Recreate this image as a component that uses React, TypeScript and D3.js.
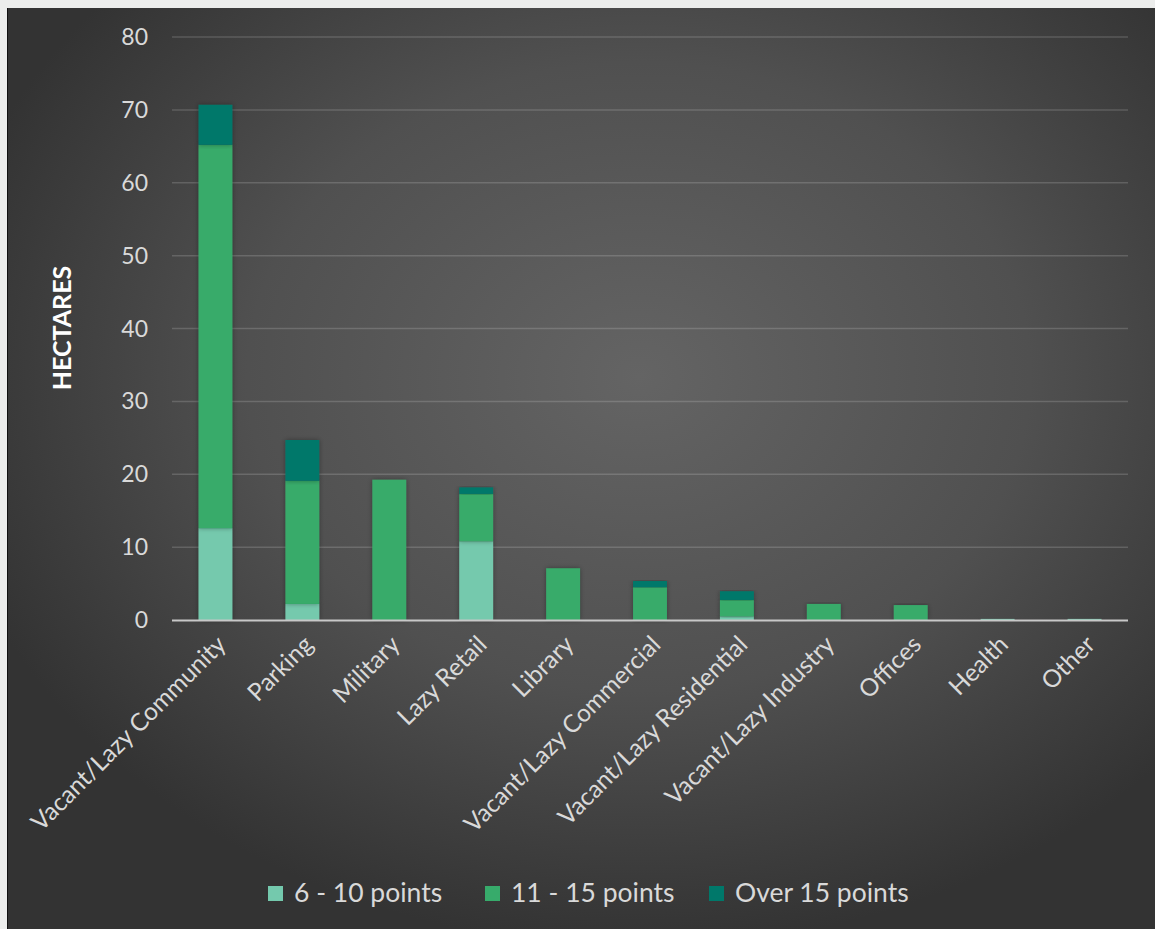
import React from "react";
import * as d3 from "d3";

const categories = [
  "Vacant/Lazy Community",
  "Parking",
  "Military",
  "Lazy Retail",
  "Library",
  "Vacant/Lazy Commercial",
  "Vacant/Lazy Residential",
  "Vacant/Lazy Industry",
  "Offices",
  "Health",
  "Other",
];
const series6to10 = [12.6, 2.2, 0, 10.8, 0, 0, 0.5, 0, 0, 0.15, 0.15];
const series11to15 = [52.6, 16.9, 19.25, 6.5, 7.1, 4.5, 2.25, 2.2, 2.05, 0, 0];
const seriesOver15 = [5.5, 5.6, 0, 0.9, 0, 0.85, 1.2, 0, 0, 0, 0];
const seriesNames = ["6 - 10 points", "11 - 15 points", "Over 15 points"];
const seriesColors = ["#74c9ad", "#37ab6b", "#00786a"];
const yTicks = [0, 10, 20, 30, 40, 50, 60, 70, 80];

const W = 1155;
const H = 929;
const FONT = "Lato, 'Open Sans', sans-serif";

export default function App() {
  const x = d3
    .scaleBand<string>()
    .domain(categories)
    .range([172, 1128])
    .paddingInner(0.61)
    .paddingOuter(0.305);
  const y = d3.scaleLinear().domain([0, 80]).range([620, 37]);

  const rows = categories.map((c, i) => ({
    cat: c,
    a: series6to10[i],
    b: series11to15[i],
    c: seriesOver15[i],
  }));
  const stack = d3.stack<any>().keys(["a", "b", "c"])(rows);

  const legendX = [268, 485, 709];

  return (
    <div style={{ position: "fixed", left: 0, top: 0, width: W, height: H, overflow: "hidden" }}>
      <svg width={W} height={H} style={{ display: "block" }}>
        <defs>
          <radialGradient id="bg" cx="0.55" cy="0.4" r="0.62">
            <stop offset="0" stopColor="#646464" />
            <stop offset="0.55" stopColor="#505050" />
            <stop offset="1" stopColor="#333333" />
          </radialGradient>
          <filter id="sh" x="-30%" y="-10%" width="160%" height="120%">
            <feDropShadow dx="0" dy="0" stdDeviation="2.5" floodColor="#000" floodOpacity="0.35" />
          </filter>
        </defs>
        <rect x={0} y={0} width={W} height={H} fill="#ecedec" />
        <rect x={7} y={8} width={W - 7} height={H - 8} fill="#111" />
        <rect x={8} y={8} width={W - 8} height={H - 8} fill="url(#bg)" />

        {yTicks.map((t) => (
          <g key={t}>
            {t !== 0 && (
              <line x1={172} x2={1128} y1={y(t)} y2={y(t)} stroke="#ffffff" strokeOpacity={0.16} strokeWidth={1.5} />
            )}
            <text
              x={148}
              y={y(t)}
              dy="0.35em"
              textAnchor="end"
              fill="#d9d9d9"
              fontSize={23}
              fontFamily={FONT}
            >
              {t}
            </text>
          </g>
        ))}

        {stack.map((s, si) => (
          <g key={si} fill={seriesColors[si]}>
            {s.map((d: any, i: number) => {
              const h = y(d[0]) - y(d[1]);
              if (h <= 0) return null;
              return (
                <rect
                  key={i}
                  x={x(categories[i])}
                  y={y(d[1])}
                  width={x.bandwidth()}
                  height={h}
                  filter="url(#sh)"
                />
              );
            })}
          </g>
        ))}

        <line x1={172} x2={1128} y1={y(0) + 0.5} y2={y(0) + 0.5} stroke="#c8c8c8" strokeWidth={2} />

        {categories.map((c) => {
          const cx = (x(c) as number) + x.bandwidth() / 2 + 6;
          return (
            <text
              key={c}
              transform={`translate(${cx},${640}) rotate(-45)`}
              textAnchor="end"
              dy="0.35em"
              fill="#d9d9d9"
              fontSize={24.5}
              fontFamily={FONT}
            >
              {c}
            </text>
          );
        })}

        <text
          transform={`translate(62,328) rotate(-90)`}
          textAnchor="middle"
          dy="0.35em"
          fill="#ffffff"
          fontSize={25}
          fontWeight="bold"
          fontFamily={FONT}
        >
          HECTARES
        </text>

        {seriesNames.map((n, i) => (
          <g key={n}>
            <rect x={legendX[i]} y={886} width={15} height={15} fill={seriesColors[i]} />
            <text
              x={legendX[i] + 26}
              y={893}
              dy="0.35em"
              fill="#d9d9d9"
              fontSize={26.5}
              fontFamily={FONT}
            >
              {n}
            </text>
          </g>
        ))}
      </svg>
    </div>
  );
}
